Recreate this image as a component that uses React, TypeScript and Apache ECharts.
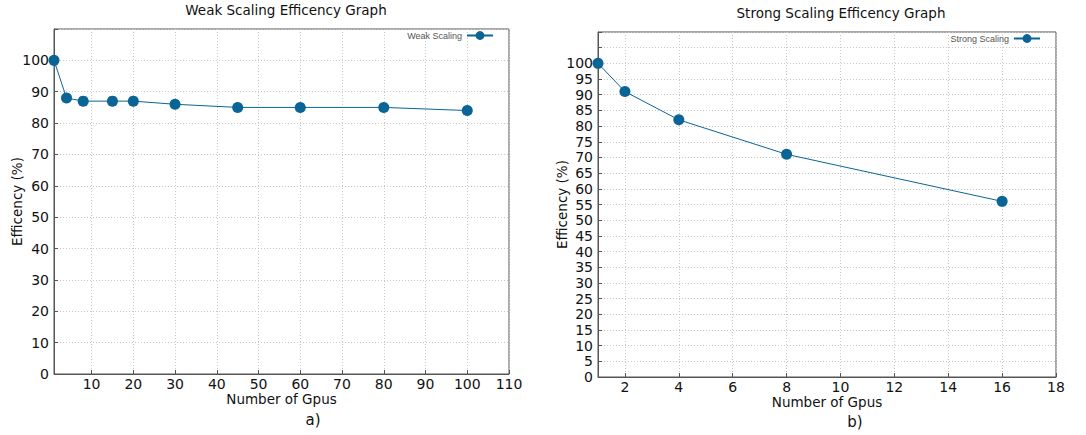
import React, { useEffect, useRef } from "react";
import * as echarts from "echarts";

const weakGpus = [1, 4, 8, 15, 20, 30, 45, 60, 80, 100];
const weakEff = [100, 88, 87, 87, 87, 86, 85, 85, 85, 84];
const strongGpus = [1, 2, 4, 8, 16];
const strongEff = [100, 91, 82, 71, 56];
const weakXTicks = [10, 20, 30, 40, 50, 60, 70, 80, 90, 100, 110];
const strongXTicks = [2, 4, 6, 8, 10, 12, 14, 16, 18];

const LINE = "#0a6496";
const FONT = "DejaVu Sans";

export default function App() {
  const ref = useRef<HTMLDivElement>(null);
  useEffect(() => {
    document.body.style.margin = "0";
    const chart = echarts.init(ref.current!, undefined, { renderer: "svg" });
    const gridLine = { show: true, lineStyle: { color: "#c8c8c8", type: [1, 2] as any, width: 1 } };
    const axisLine = { show: true, lineStyle: { color: "#555", width: 1 } };
    const label = { color: "#111", fontFamily: FONT, fontSize: 14 };
    const xAxisCommon = (gi: number, min: number, max: number, ticks: number[]) => ({
      type: "value",
      gridIndex: gi,
      min,
      max,
      name: "Number of Gpus",
      nameLocation: "middle",
      nameGap: 18,
      nameMoveOverlap: false,
      nameTextStyle: { color: "#111", fontFamily: FONT, fontSize: 13.5 },
      axisLine,
      axisTick: { show: true, inside: true, length: 4, customValues: ticks, lineStyle: { color: "#555" } },
      axisLabel: { ...label, margin: 2, lineHeight: 15, customValues: ticks },
      splitLine: gridLine,
    });
    const yAxisCommon = (gi: number, interval: number, nameGap: number) => ({
      type: "value",
      gridIndex: gi,
      min: 0,
      max: 110,
      interval,
      name: "Efficency (%)",
      nameLocation: "middle",
      nameGap,
      nameMoveOverlap: false,
      nameTextStyle: { color: "#111", fontFamily: FONT, fontSize: 13.5 },
      axisLine,
      axisTick: { show: true, inside: true, length: 4, lineStyle: { color: "#555" } },
      axisLabel: {
        ...label,
        margin: 5,
        formatter: (v: number) => (v > 100 ? "" : String(v)),
      },
      splitLine: gridLine,
    });
    chart.setOption({
      animation: false,
      title: [
        { text: "Weak Scaling Efficency Graph", left: 281, top: -2, textAlign: "center",
          textStyle: { fontFamily: FONT, fontSize: 13.5, fontWeight: "normal", color: "#111" } },
        { text: "Strong Scaling Efficency Graph", left: 836, top: 1, textAlign: "center",
          textStyle: { fontFamily: FONT, fontSize: 13.5, fontWeight: "normal", color: "#111" } },
        { text: "a)", left: 308, top: 407, textAlign: "center",
          textStyle: { fontFamily: FONT, fontSize: 15, fontWeight: "normal", color: "#111" } },
        { text: "b)", left: 850, top: 409, textAlign: "center",
          textStyle: { fontFamily: FONT, fontSize: 15, fontWeight: "normal", color: "#111" } },
      ],
      legend: [
        { data: ["Weak Scaling"], right: 587, top: 26, align: "right", itemWidth: 26, itemHeight: 11,
          textStyle: { fontSize: 9, color: "#555", fontFamily: "Liberation Sans" }, itemGap: 4 },
        { data: ["Strong Scaling"], right: 40, top: 29, align: "right", itemWidth: 26, itemHeight: 11,
          textStyle: { fontSize: 9, color: "#555", fontFamily: "Liberation Sans" }, itemGap: 4 },
      ],
      grid: [
        { left: 54, right: 577, top: 29, bottom: 61, show: true, borderColor: "#555", borderWidth: 1 },
        { left: 598, right: 30, top: 32, bottom: 58, show: true, borderColor: "#555", borderWidth: 1 },
      ],
      xAxis: [xAxisCommon(0, 1, 110, weakXTicks), xAxisCommon(1, 1, 18, strongXTicks)],
      yAxis: [yAxisCommon(0, 10, 30), yAxisCommon(1, 5, 29)],
      series: [
        {
          name: "Weak Scaling", type: "line", xAxisIndex: 0, yAxisIndex: 0,
          data: weakGpus.map((g, i) => [g, weakEff[i]]),
          symbol: "circle", symbolSize: 11, color: LINE, lineStyle: { width: 1, color: LINE },
        },
        {
          name: "Strong Scaling", type: "line", xAxisIndex: 1, yAxisIndex: 1,
          data: strongGpus.map((g, i) => [g, strongEff[i]]),
          symbol: "circle", symbolSize: 11, color: LINE, lineStyle: { width: 1, color: LINE },
        },
      ],
    });
    return () => chart.dispose();
  }, []);
  return <div ref={ref} style={{ width: 1086, height: 435 }} />;
}
